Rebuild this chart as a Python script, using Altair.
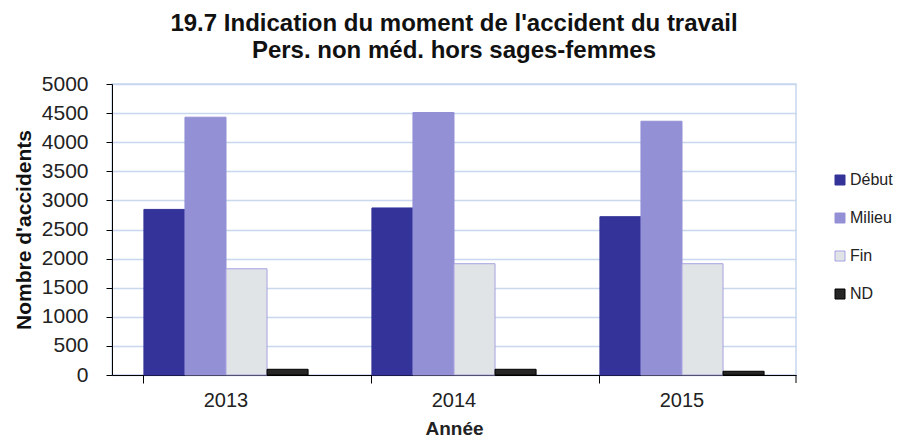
import altair as alt
import pandas as pd

years = ["2013", "2014", "2015"]
moments = ["Début", "Milieu", "Fin", "ND"]
debut = [2845, 2870, 2720]
milieu = [4430, 4510, 4360]
fin = [1825, 1912, 1912]
nd = [98, 98, 64]
colors = ["#333399", "#9390d6", "#e0e4e6", "#262626"]
strokes = ["#333399", "#9390d6", "#a7a2e0", "#000000"]

rows = []
for i, y in enumerate(years):
    for m, vals in zip(moments, [debut, milieu, fin, nd]):
        rows.append({"Année": y, "Moment": m, "Valeur": vals[i]})
df = pd.DataFrame(rows)

font = "Liberation Sans"
W, H = 684, 291

bars = alt.Chart(df).mark_bar(strokeWidth=1).encode(
    x=alt.X("Année:N", sort=years,
            scale=alt.Scale(paddingInner=0.28, paddingOuter=0.14),
            axis=alt.Axis(title="Année", labelAngle=0, bandPosition=0,
                          tickSize=8, domainColor="#000000", tickColor="#000000",
                          labelFont=font, labelFontSize=20, labelColor="#222222",
                          labelPadding=7, titleFont=font, titleFontSize=19,
                          titleFontWeight="bold", titleColor="#222222", titlePadding=9)),
    xOffset=alt.XOffset("Moment:N", sort=moments),
    y=alt.Y("Valeur:Q",
            scale=alt.Scale(domain=[0, 5000]),
            axis=alt.Axis(title="Nombre d'accidents", values=list(range(0, 5001, 500)),
                          format="d",
                          tickSize=6, domainColor="#000000", tickColor="#000000",
                          gridColor="#c8d8ee", gridWidth=1.5,
                          labelFont=font, labelFontSize=21, labelColor="#222222",
                          labelPadding=18, titleFont=font, titleFontSize=21,
                          titleFontWeight="bold", titleColor="#111111", titlePadding=7)),
    color=alt.Color("Moment:N", sort=moments,
                    scale=alt.Scale(domain=moments, range=colors),
                    legend=alt.Legend(title=None, symbolType="square", symbolSize=100,
                                      symbolStrokeWidth=1, labelFont=font, labelFontSize=16,
                                      labelColor="#222222", rowPadding=22, labelOffset=2,
                                      orient="none", legendX=720, legendY=88, padding=0)),
    stroke=alt.Stroke("Moment:N", sort=moments,
                      scale=alt.Scale(domain=moments, range=strokes), legend=None),
)

end_tick = alt.Chart(pd.DataFrame({"t": [0]})).mark_rule(color="#000000").encode(
    x=alt.value(W), y=alt.value(H), y2=alt.value(H + 8)
)

chart = alt.layer(bars, end_tick).properties(
    width=W, height=H,
    padding={"left": 5, "top": 4, "right": 0, "bottom": 0},
    title=alt.Title(["19.7 Indication du moment de l'accident du travail",
                     "Pers. non méd. hors sages-femmes"],
                    font=font, fontSize=24, fontWeight="bold", color="#111111",
                    anchor="middle", lineHeight=27, offset=10),
).configure_view(stroke="#c8d8ee", strokeWidth=1.5)

chart.save("out.html", embed_options={"renderer": "svg", "actions": False})
